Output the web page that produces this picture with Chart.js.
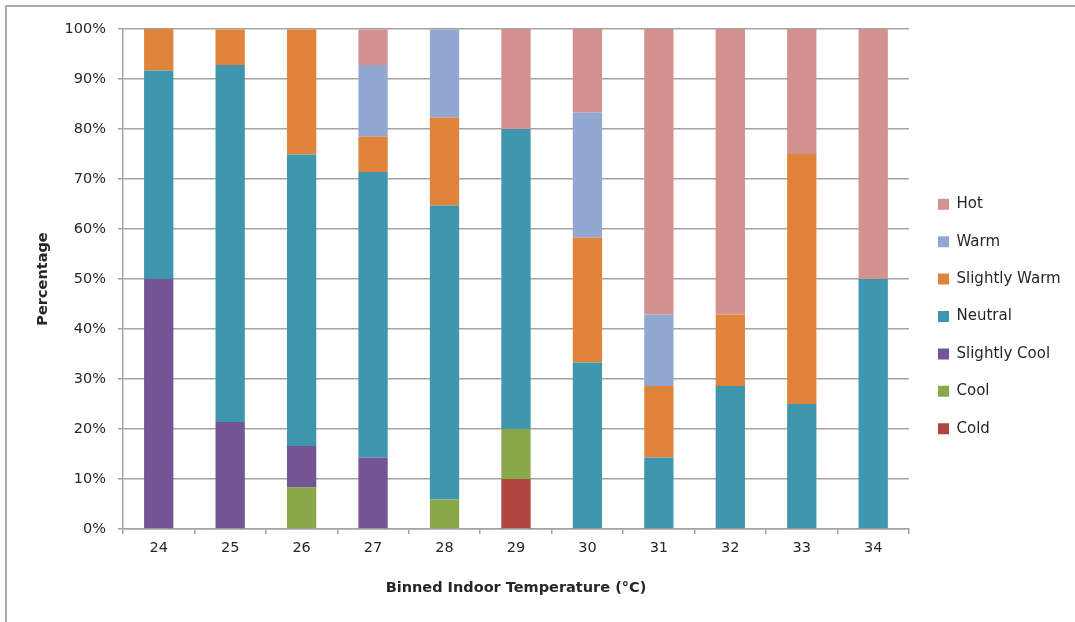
<!DOCTYPE html>
<html>
<head>
<meta charset="utf-8">
<script src="https://cdn.jsdelivr.net/npm/chart.js@4.4.1/dist/chart.umd.min.js"></script>
<style>
  html, body { margin: 0; padding: 0; background: #ffffff; }
  #wrap { position: relative; width: 1075px; height: 622px; overflow: hidden; }
  #frame { position: absolute; left: 5px; top: 5px; right: -10px; bottom: -10px;
           border-top: 2px solid #ababab; border-left: 2px solid #ababab; pointer-events: none; }
  canvas { position: absolute; left: 0; top: 0; }
</style>
</head>
<body>
<div id="wrap">
  <canvas id="chart" width="1075" height="622"></canvas>
  <div id="frame"></div>
</div>
<script>
// Binned indoor temperature (°C) and share of thermal sensation votes (%)
const categories = ['24', '25', '26', '27', '28', '29', '30', '31', '32', '33', '34'];

const cold          = [0,    0,    0,    0,    0,    10,   0,    0,    0,    0,  0];
const cool          = [0,    0,    8.3,  0,    5.9,  10,   0,    0,    0,    0,  0];
const slightlyCool  = [50,   21.4, 8.3,  14.3, 0,    0,    0,    0,    0,    0,  0];
const neutral       = [41.7, 71.4, 58.3, 57.1, 58.8, 60,   33.3, 14.3, 28.6, 25, 50];
const slightlyWarm  = [8.3,  7.1,  25,   7.1,  17.6, 0,    25,   14.3, 14.3, 50, 0];
const warm          = [0,    0,    0,    14.3, 17.6, 0,    25,   14.3, 0,    0,  0];
const hot           = [0,    0,    0,    7.1,  0,    20,   16.7, 57.1, 57.1, 25, 50];

const yTicks = [0, 10, 20, 30, 40, 50, 60, 70, 80, 90, 100];

const FONT = "'DejaVu Sans', sans-serif";
const TEXT = '#262626';
const GRID = '#a3a3a3';
const LEGEND_PAD = 22.4;

const series = [
  { label: 'Cold',          data: cold,         color: '#b0443f' },
  { label: 'Cool',          data: cool,         color: '#8aa84a' },
  { label: 'Slightly Cool', data: slightlyCool, color: '#735593' },
  { label: 'Neutral',       data: neutral,      color: '#3e96af' },
  { label: 'Slightly Warm', data: slightlyWarm, color: '#e0843b' },
  { label: 'Warm',          data: warm,         color: '#93a8d1' },
  { label: 'Hot',           data: hot,          color: '#d39190' }
];

// Nudges the right-hand legend so its swatch column and rows sit where wanted.
const legendPlacement = {
  id: 'legendPlacement',
  afterLayout(chart) {
    const lg = chart.legend;
    if (!lg) return;
    const w = lg.right - lg.left;
    lg.left = 938 - LEGEND_PAD;
    lg.right = lg.left + w;
    lg.top -= 9;
    lg.bottom -= 9;
  }
};

new Chart(document.getElementById('chart'), {
  type: 'bar',
  data: {
    labels: categories,
    datasets: series.map(s => ({
      label: s.label,
      data: s.data,
      backgroundColor: s.color,
      borderWidth: 0,
      barPercentage: 0.41,
      categoryPercentage: 1
    }))
  },
  options: {
    responsive: false,
    animation: false,
    devicePixelRatio: 1,
    layout: { padding: { left: 0, top: 29, right: 11, bottom: 0 } },
    plugins: {
      tooltip: { enabled: false },
      legend: {
        position: 'right',
        reverse: true,
        labels: {
          boxWidth: 11,
          boxHeight: 11,
          padding: LEGEND_PAD,
          color: TEXT,
          font: { family: FONT, size: 15 }
        }
      }
    },
    scales: {
      x: {
        stacked: true,
        grid: {
          offset: true,
          drawOnChartArea: false,
          drawTicks: true,
          tickLength: 5,
          color: GRID,
          lineWidth: 1.5
        },
        border: { color: GRID, width: 1.5 },
        ticks: { color: TEXT, padding: 6, font: { family: FONT, size: 14.5 } },
        title: {
          display: true,
          text: 'Binned Indoor Temperature (°C)',
          color: TEXT,
          font: { family: FONT, size: 14.5, weight: 'bold' },
          padding: { top: 0, bottom: 25 }
        },
        afterFit: s => { s.height = 622 - 529; }
      },
      y: {
        stacked: true,
        min: 0,
        max: 100,
        afterBuildTicks: s => { s.ticks = yTicks.map(v => ({ value: v })); },
        grid: { color: GRID, lineWidth: 1.5, tickLength: 5 },
        border: { color: GRID, width: 1.5 },
        ticks: {
          color: TEXT,
          padding: 12,
          font: { family: FONT, size: 14.5 },
          callback: v => v + '%'
        },
        title: {
          display: true,
          text: 'Percentage',
          color: TEXT,
          font: { family: FONT, size: 14.5, weight: 'bold' },
          padding: { top: 35, bottom: 0 }
        },
        afterFit: s => { s.width = 123; }
      }
    }
  },
  plugins: [legendPlacement]
});
</script>
</body>
</html>
